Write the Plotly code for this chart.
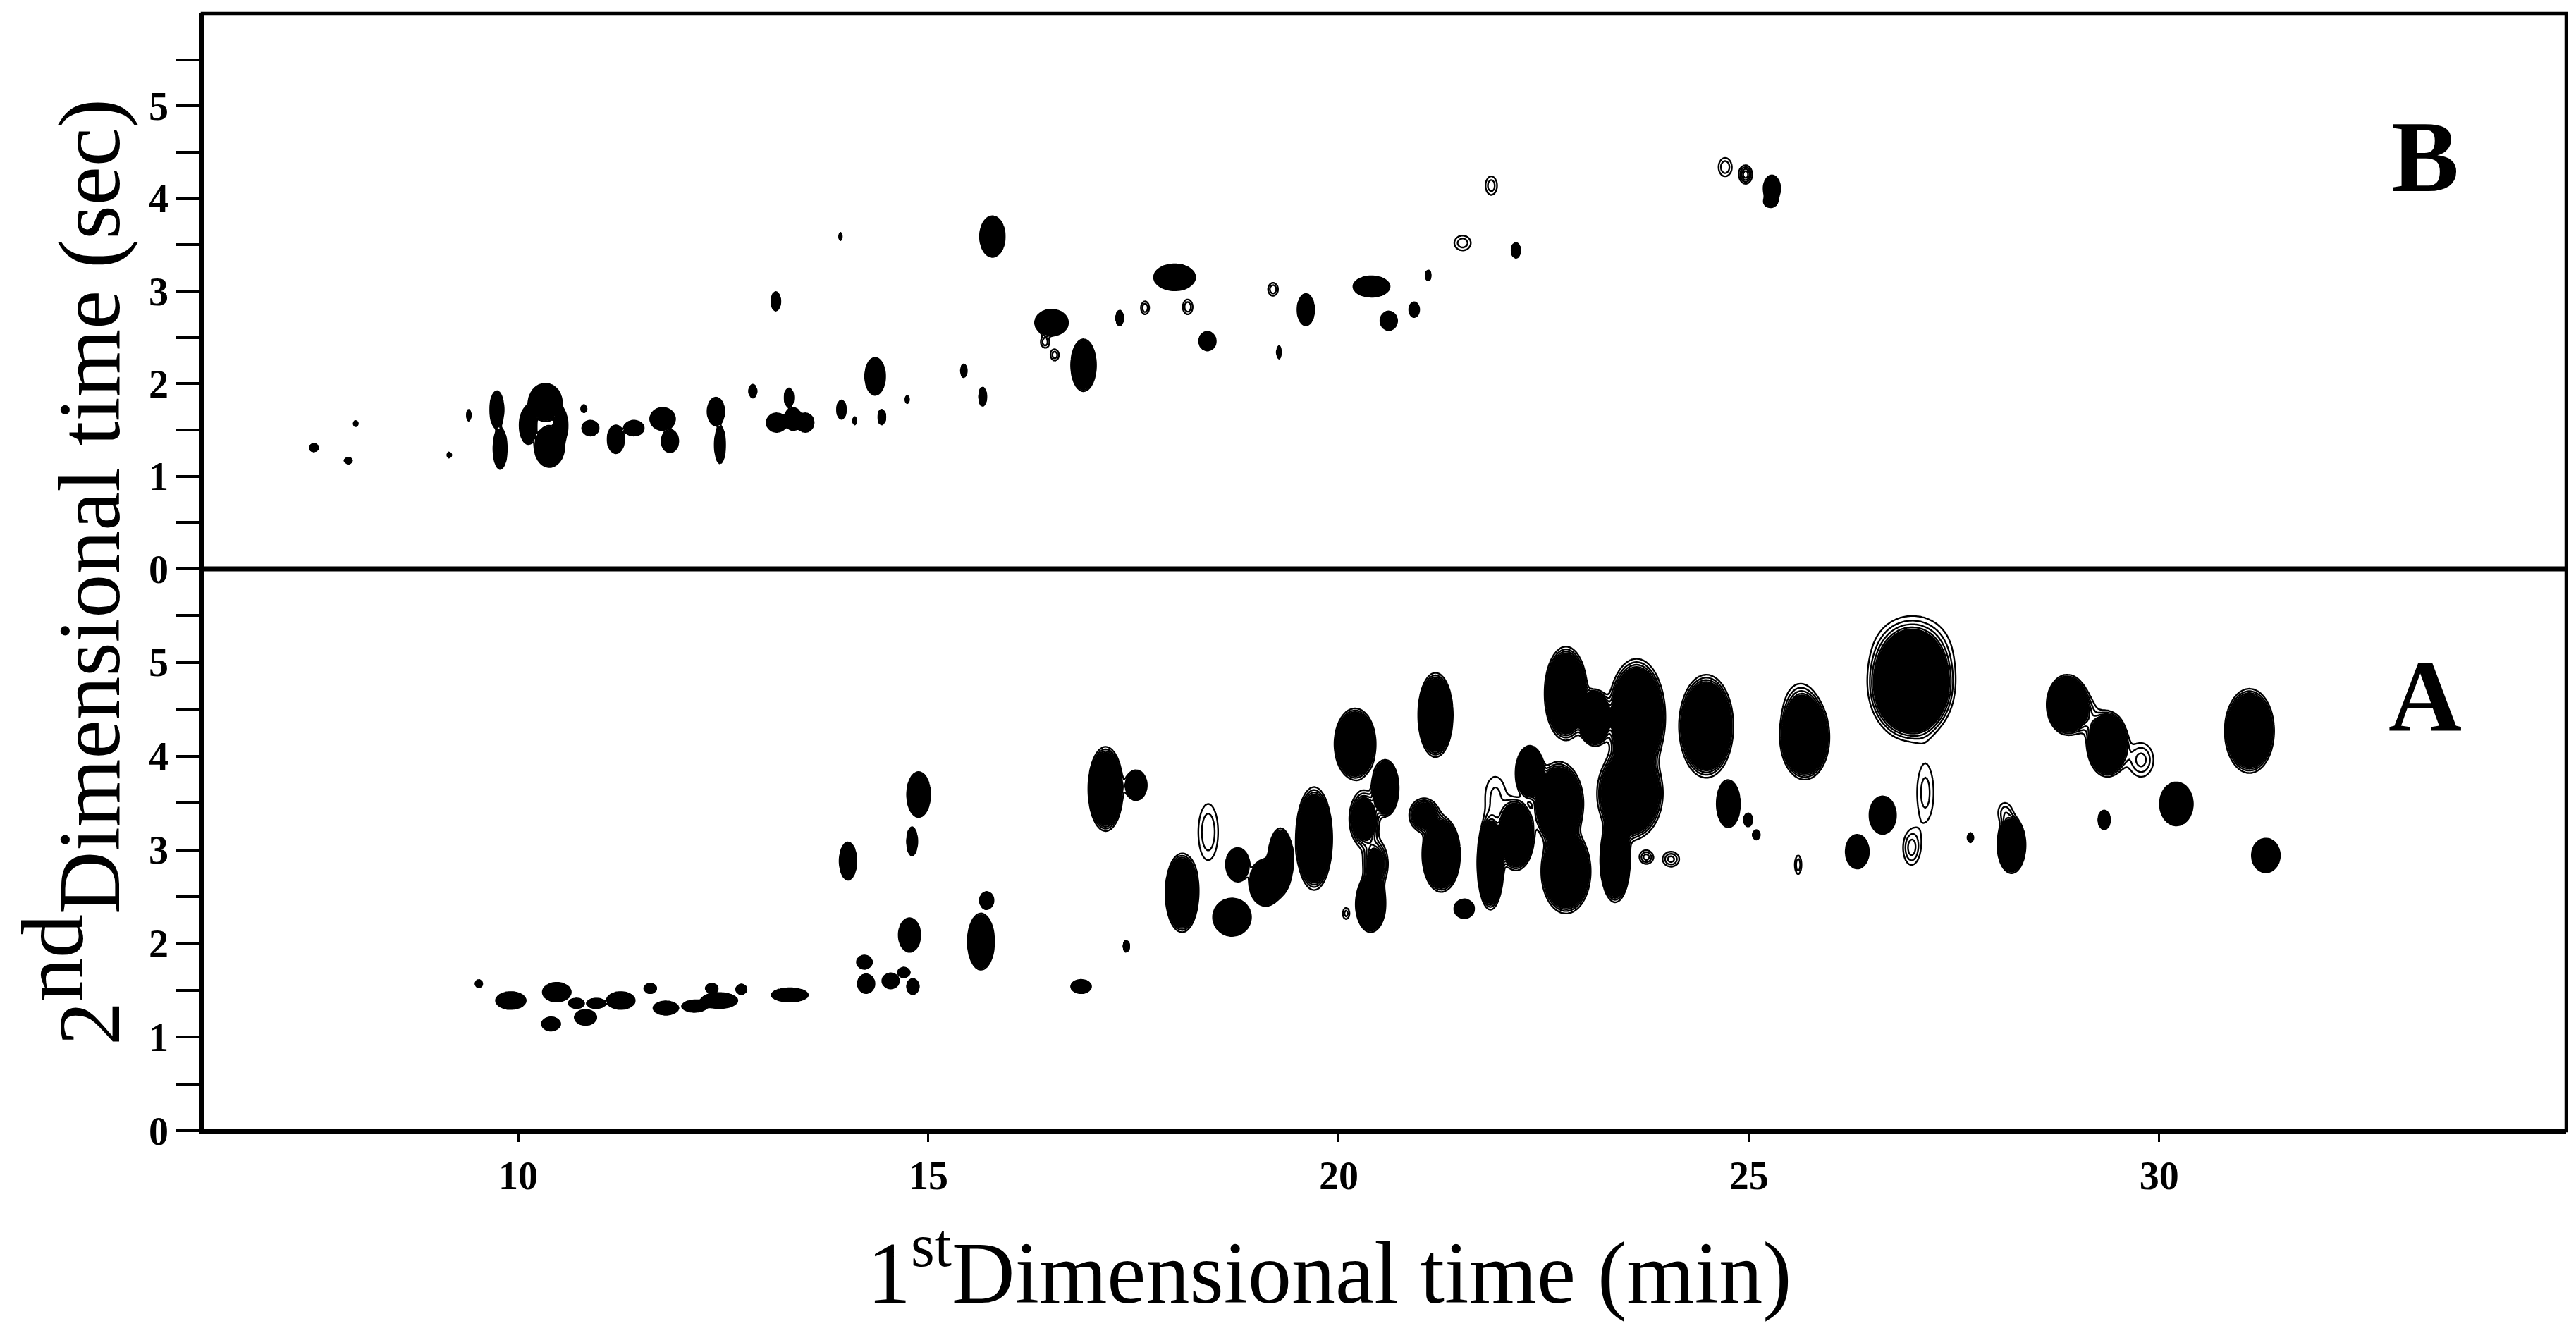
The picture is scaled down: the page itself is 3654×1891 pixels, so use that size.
import numpy as np
import plotly.graph_objects as go

# ---------------- data ----------------
# Panel A: peak centres (1st dim min, 2nd dim sec), outer-contour half sizes, intensity class
A_x = [9.52, 9.91, 10.47, 10.40, 10.71, 10.82, 10.95, 11.25, 11.61, 11.80, 12.15, 12.45, 12.36, 12.72,
       13.31, 14.22, 14.24, 14.54, 14.70, 14.81, 14.02, 14.88, 14.80, 14.77, 15.71, 15.64, 16.86, 17.41,
       17.16, 17.53, 18.41, 18.09, 18.70, 18.77, 19.70, 19.29, 19.11, 20.20, 20.57, 20.31, 20.39, 20.45,
       20.09, 21.18, 21.04, 21.25, 21.53, 21.85, 22.16, 21.91, 22.33, 22.77, 23.63, 23.12, 23.55, 22.68,
       22.77, 23.37, 23.75, 24.05, 24.48, 25.68, 25.62, 24.75, 24.99, 25.09, 25.60, 26.32, 26.63, 27.15,
       26.98, 27.70, 28.20, 28.12, 26.98, 27.00, 28.88, 29.37, 29.78, 29.10, 29.33, 30.21, 31.10, 31.30]
A_y = [1.57, 1.39, 1.48, 1.14, 1.36, 1.21, 1.36, 1.39, 1.52, 1.31, 1.33, 1.39, 1.52, 1.51,
       1.45, 1.80, 1.57, 1.60, 1.69, 1.54, 2.88, 3.59, 3.09, 2.09, 2.46, 2.02, 1.54, 1.97,
       3.65, 3.69, 3.19, 2.54, 2.28, 2.84, 3.12, 2.88, 2.65, 4.13, 3.66, 3.33, 2.42, 2.85,
       2.32, 4.44, 3.37, 2.95, 2.37, 2.86, 3.16, 3.58, 3.83, 4.67, 4.42, 4.41, 3.60, 3.49,
       2.77, 2.89, 2.92, 2.90, 4.32, 4.20, 4.55, 3.49, 3.32, 3.16, 2.84, 2.98, 3.37, 3.61,
       3.02, 3.13, 3.05, 3.40, 4.76, 5.20, 4.55, 4.13, 3.96, 4.45, 3.32, 3.49, 4.27, 2.94]
A_wx = [0.04, 0.18, 0.17, 0.11, 0.09, 0.13, 0.11, 0.17, 0.07, 0.15, 0.15, 0.22, 0.07, 0.06,
        0.22, 0.09, 0.10, 0.10, 0.07, 0.07, 0.10, 0.14, 0.06, 0.13, 0.08, 0.16, 0.12, 0.03,
        0.21, 0.13, 0.12, 0.20, 0.23, 0.14, 0.22, 0.15, 0.20, 0.25, 0.16, 0.18, 0.18, 0.15,
        0.04, 0.21, 0.18, 0.23, 0.12, 0.16, 0.22, 0.12, 0.17, 0.26, 0.35, 0.20, 0.40, 0.30,
        0.30, 0.18, 0.08, 0.10, 0.33, 0.30, 0.15, 0.14, 0.05, 0.04, 0.04, 0.14, 0.16, 0.10,
        0.10, 0.03, 0.17, 0.08, 0.53, 0.35, 0.25, 0.25, 0.15, 0.12, 0.07, 0.20, 0.30, 0.17]
A_wy = [0.04, 0.09, 0.10, 0.07, 0.05, 0.08, 0.05, 0.09, 0.05, 0.07, 0.06, 0.08, 0.05, 0.05,
        0.07, 0.07, 0.10, 0.08, 0.05, 0.08, 0.20, 0.24, 0.15, 0.18, 0.09, 0.30, 0.07, 0.06,
        0.45, 0.16, 0.30, 0.42, 0.20, 0.18, 0.55, 0.35, 0.25, 0.38, 0.30, 0.30, 0.30, 0.25,
        0.06, 0.45, 0.18, 0.40, 0.10, 0.50, 0.38, 0.20, 0.28, 0.50, 0.62, 0.30, 0.50, 0.45,
        0.45, 0.45, 0.07, 0.08, 0.55, 0.45, 0.20, 0.25, 0.07, 0.05, 0.10, 0.18, 0.20, 0.30,
        0.18, 0.05, 0.30, 0.10, 0.60, 0.25, 0.32, 0.35, 0.18, 0.15, 0.10, 0.23, 0.45, 0.18]
A_h = [3, 20, 6, 20, 20, 20, 20, 20, 20, 20, 20, 20, 20, 20,
       20, 20, 20, 20, 20, 20, 20, 20, 20, 20, 20, 20, 20, 20,
       20, 8, 1.8, 20, 20, 10, 20, 20, 20, 20, 20, 6, 20, 4,
       1.6, 20, 5, 20, 20, 20, 20, 1.5, 20, 20, 20, 20, 20, 20,
       20, 20, 2, 2, 20, 20, 1.8, 20, 6, 6, 1.8, 20, 20, 1.6,
       2, 8, 20, 1.6, 20, 1.8, 20, 20, 2, 1.7, 20, 20, 20, 20]

# Panel B
B_x = [7.51, 7.93, 8.02, 9.16, 9.40, 9.74, 9.78, 10.12, 10.33, 10.38, 10.52, 10.80, 10.88, 11.19, 11.41,
       11.76, 11.85, 12.41, 12.46, 12.86, 13.15, 13.35, 13.50, 13.30, 13.93, 13.14, 13.94, 14.10,
       14.35, 14.43, 14.74, 15.43, 15.66, 15.78, 16.50, 16.42, 16.54, 16.89, 17.33, 17.64, 18.00,
       18.16, 18.40, 19.20, 19.27, 19.60, 20.40, 20.61, 20.92, 21.09, 21.51, 21.86, 22.16,
       24.71, 24.96, 25.28, 25.26]
B_y = [1.31, 1.17, 1.57, 1.23, 1.66, 1.72, 1.30, 1.55, 1.80, 1.32, 1.55, 1.73, 1.52, 1.40, 1.52,
       1.62, 1.38, 1.70, 1.34, 1.92, 1.58, 1.62, 1.58, 1.85, 3.59, 2.89, 1.72, 1.60,
       2.08, 1.64, 1.83, 2.14, 1.86, 3.59, 2.66, 2.45, 2.31, 2.20, 2.71, 2.82, 3.15,
       2.83, 2.46, 3.02, 2.34, 2.80, 3.05, 2.68, 2.80, 3.17, 3.52, 4.14, 3.44,
       4.34, 4.26, 4.11, 3.96]
B_wx = [0.05, 0.04, 0.02, 0.02, 0.02, 0.08, 0.08, 0.10, 0.20, 0.18, 0.08, 0.03, 0.10, 0.10, 0.12,
        0.15, 0.10, 0.10, 0.06, 0.04, 0.12, 0.10, 0.10, 0.05, 0.01, 0.05, 0.05, 0.02,
        0.12, 0.04, 0.02, 0.03, 0.04, 0.15, 0.20, 0.05, 0.05, 0.15, 0.04, 0.05, 0.25,
        0.06, 0.10, 0.06, 0.02, 0.10, 0.22, 0.10, 0.06, 0.02, 0.10, 0.07, 0.05,
        0.08, 0.08, 0.10, 0.07]
B_wy = [0.04, 0.03, 0.03, 0.03, 0.06, 0.20, 0.22, 0.20, 0.20, 0.22, 0.18, 0.04, 0.08, 0.15, 0.08,
        0.12, 0.12, 0.15, 0.20, 0.07, 0.10, 0.12, 0.10, 0.10, 0.04, 0.10, 0.10, 0.04,
        0.20, 0.08, 0.04, 0.07, 0.10, 0.22, 0.14, 0.06, 0.06, 0.28, 0.08, 0.07, 0.14,
        0.08, 0.10, 0.07, 0.07, 0.17, 0.11, 0.10, 0.08, 0.06, 0.08, 0.10, 0.08,
        0.10, 0.10, 0.14, 0.05]
B_h = [20, 20, 4, 4, 8, 20, 20, 20, 20, 20, 20, 4, 20, 20, 20,
       20, 20, 20, 20, 20, 20, 20, 20, 20, 4, 20, 20, 4,
       20, 20, 6, 20, 20, 20, 20, 1.7, 1.7, 20, 20, 1.8, 20,
       1.8, 20, 1.8, 8, 20, 20, 20, 3, 20, 1.7, 1.7, 20,
       1.8, 2.5, 6, 2]

X_TICKS = [10, 15, 20, 25, 30]
Y_TICKS = [0, 0.5, 1, 1.5, 2, 2.5, 3, 3.5, 4, 4.5, 5, 5.5]
Y_TICKTEXT = ["0", "", "1", "", "2", "", "3", "", "4", "", "5", ""]

# ---------------- surfaces from the peak lists ----------------
gx = np.arange(6.8, 32.4, 0.022)
gy = np.arange(0.6, 6.0, 0.014)
GX, GY = np.meshgrid(gx, gy)


def surface(px, py, wx, wy, h):
    z = np.zeros_like(GX)
    for x0, y0, a, b, amp in zip(px, py, wx, wy, h):
        k = np.sqrt(2 * np.log(amp))
        sx, sy = a / k, b / k
        z += amp * np.exp(-0.5 * (((GX - x0) / sx) ** 2 + ((GY - y0) / sy) ** 2))
    return np.round(z, 3).astype(np.float32)


ZA = surface(A_x, A_y, A_wx, A_wy, A_h)
ZB = surface(B_x, B_y, B_wx, B_wy, B_h)

fig = go.Figure()
for Z, ya in ((ZA, "y"), (ZB, "y2")):
    fig.add_trace(go.Contour(
        x=gx, y=gy, z=Z, yaxis=ya, xaxis="x",
        contours=dict(start=1.0, end=2.2, size=0.4, coloring="lines"),
        colorscale=[[0, "black"], [1, "black"]],
        line=dict(color="black", width=2.4, smoothing=0.6),
        showscale=False, hoverinfo="skip"))
    # shade where the surface is above the inner level (constraint shades the excluded side)
    fig.add_trace(go.Contour(
        x=gx, y=gy, z=Z, yaxis=ya, xaxis="x",
        contours=dict(type="constraint", operation="<", value=2.5),
        fillcolor="black",
        line=dict(color="black", width=2.4, smoothing=0.6),
        showscale=False, hoverinfo="skip"))

SPLIT = 0.5028
tickfont = dict(family="Liberation Serif", size=56, color="black", weight="bold")
yax = dict(range=[0, 6], tickvals=Y_TICKS, ticktext=Y_TICKTEXT, ticks="outside", ticklen=32,
           tickwidth=3.5, tickcolor="black", showline=True, linewidth=4.5, linecolor="black",
           showgrid=False, zeroline=False, tickfont=tickfont, anchor="x")

fig.update_layout(
    width=3654, height=1891,
    margin=dict(l=287, r=14, t=19, b=287, pad=0),
    paper_bgcolor="white", plot_bgcolor="white",
    showlegend=False,
    xaxis=dict(range=[6.15, 34.96], tickvals=X_TICKS, ticks="outside", ticklen=11, tickwidth=2.5,
               tickcolor="black", showline=True, linewidth=4.5, linecolor="black", showgrid=False,
               zeroline=False, tickfont=tickfont, domain=[0, 1], anchor="y"),
    yaxis=dict(domain=[0, SPLIT], **yax),
    yaxis2=dict(domain=[SPLIT, 1], **yax),
    shapes=[
        dict(type="rect", xref="paper", yref="paper", x0=0, x1=1, y0=0, y1=1,
             line=dict(color="black", width=4.5)),
        dict(type="line", xref="paper", yref="paper", x0=0, x1=1, y0=SPLIT, y1=SPLIT,
             line=dict(color="black", width=7)),
    ],
    annotations=[
        dict(text="B", xref="paper", yref="paper", x=0.9404, y=0.8719, showarrow=False,
             xanchor="center", yanchor="middle",
             font=dict(family="Liberation Serif", size=144, color="black", weight="bold")),
        dict(text="A", xref="paper", yref="paper", x=0.9404, y=0.3886, showarrow=False,
             xanchor="center", yanchor="middle",
             font=dict(family="Liberation Serif", size=144, color="black", weight="bold")),
        dict(text="1<sup>st</sup>Dimensional time (min)", xref="paper", yref="paper",
             x=0.4766, y=-0.1218, showarrow=False, xanchor="center", yanchor="middle",
             font=dict(family="Liberation Serif", size=124, color="black")),
        dict(text='2<sup><span style="font-size:124px">nd</span></sup>Dimensional time (sec)',
             xref="paper", yref="paper", x=-0.0555, y=0.5003, textangle=-90, showarrow=False,
             xanchor="center", yanchor="middle",
             font=dict(family="Liberation Serif", size=124, color="black")),
    ],
)

fig.write_html("out.html", config=dict(displayModeBar=False),
               post_script="document.body.style.margin='0';document.body.style.overflow='hidden';")
